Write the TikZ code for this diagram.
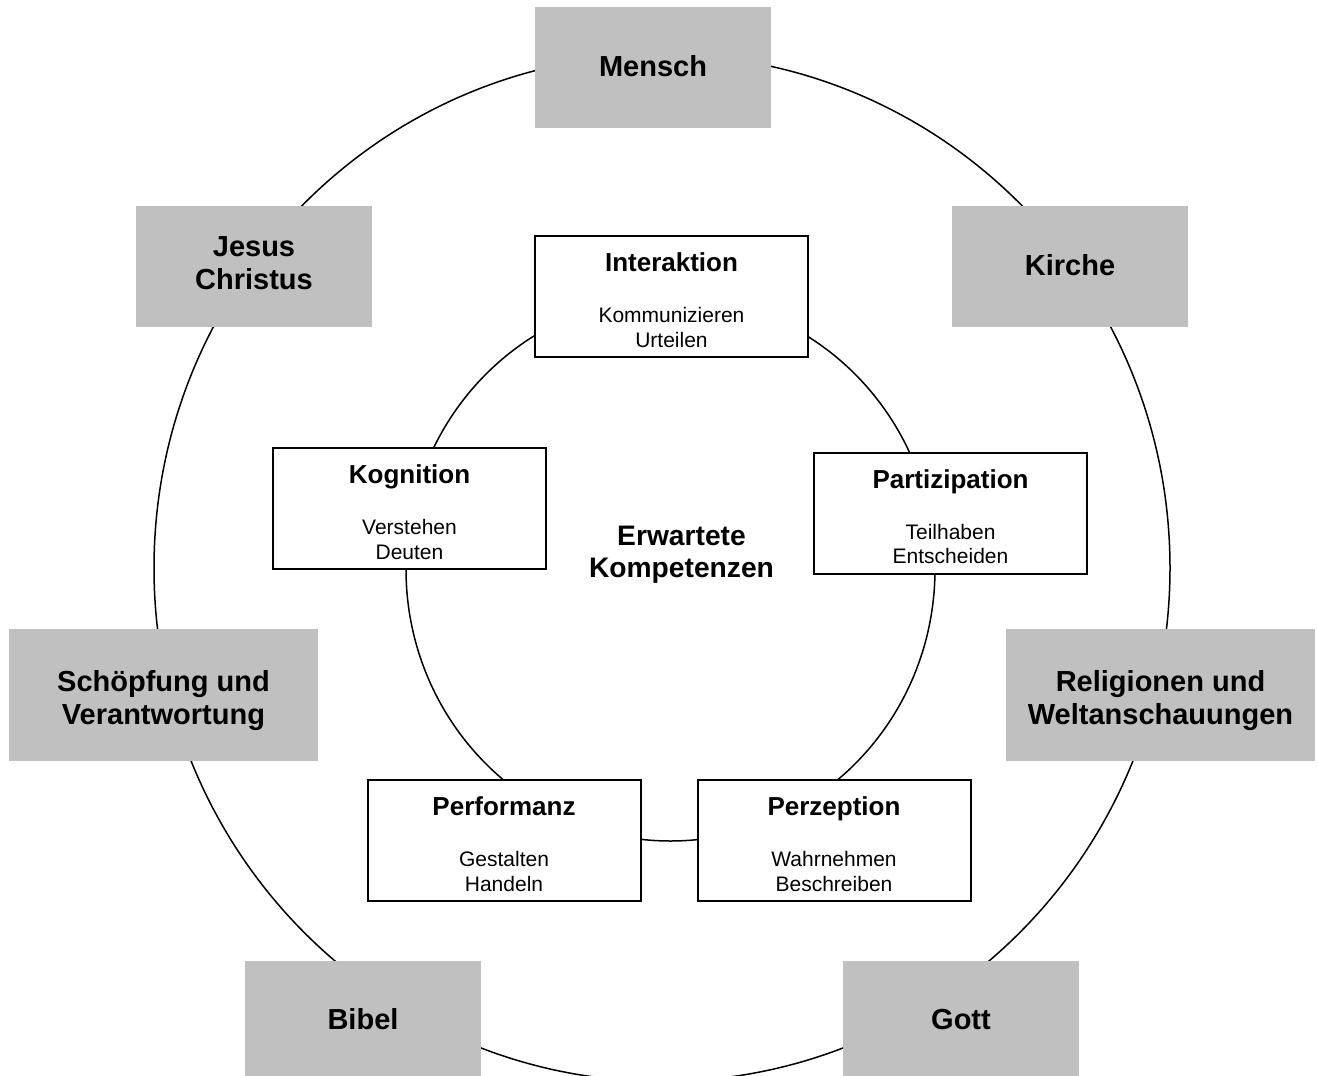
\documentclass[tikz,border=0pt]{standalone}
\usepackage{fontspec}
\setmainfont{Liberation Sans}
\definecolor{boxgray}{RGB}{192,192,192}
\tikzset{
  ring/.style={draw=black, line width=1.5pt},
  topicbox/.style={fill=boxgray, draw=none, minimum width=236pt, minimum height=121pt, inner sep=0pt},
  topicwide/.style={topicbox, minimum width=309pt, minimum height=132pt},
  compbox/.style={fill=white, draw=black, line width=2pt, minimum width=273pt, minimum height=121pt, inner sep=0pt},
  topictext/.style={anchor=base, inner sep=0pt, font=\fontsize{29}{33}\selectfont\bfseries},
  comptitle/.style={anchor=base, inner sep=0pt, font=\fontsize{26}{30}\selectfont\bfseries},
  compsub/.style={anchor=base, inner sep=0pt, font=\fontsize{21}{24}\selectfont},
  centretext/.style={anchor=base, inner sep=0pt, font=\fontsize{28.2}{32}\selectfont\bfseries}
}
\begin{document}
\begin{tikzpicture}[x=1pt,y=-1pt]
\useasboundingbox (0,0) rectangle (1318,1076);
\clip (0,0) rectangle (1318,1076);
% circles
\draw[ring] (662,568) ellipse [x radius=508pt, y radius=513.5pt];
\draw[ring] (670.5,569) ellipse [x radius=264.5pt, y radius=272pt];
% outer topics
\node[topicbox] (mensch) at (653,67.5) {};
\node[topictext] (mensch-t) at (653,76) {Mensch};
\node[topicbox] (jesus) at (254,266.5) {};
\node[topictext] (jesus-t1) at (254,256) {Jesus};
\node[topictext] (jesus-t2) at (254,289.3) {Christus};
\node[topicbox] (kirche) at (1070,266.5) {};
\node[topictext] (kirche-t) at (1070,275) {Kirche};
\node[topicwide] (schoepfung) at (163.5,695) {};
\node[topictext] (schoepfung-t1) at (163.5,691.7) {Schöpfung und};
\node[topictext] (schoepfung-t2) at (163.5,724.5) {Verantwortung};
\node[topicwide] (religionen) at (1160.5,695) {};
\node[topictext] (religionen-t1) at (1160.5,691.7) {Religionen und};
\node[topictext] (religionen-t2) at (1160.5,724.5) {Weltanschauungen};
\node[topicbox] (bibel) at (363,1021.5) {};
\node[topictext] (bibel-t) at (363,1029.5) {Bibel};
\node[topicbox] (gott) at (961,1021.5) {};
\node[topictext] (gott-t) at (961,1029.5) {Gott};
% competences
\node[compbox] (interaktion) at (671.5,296.5) {};
\node[comptitle] (interaktion-t) at (671.5,271.5) {Interaktion};
\node[compsub] (interaktion-s1) at (671.5,322.5) {Kommunizieren};
\node[compsub] (interaktion-s2) at (671.5,347) {Urteilen};
\node[compbox] (kognition) at (409.5,508.5) {};
\node[comptitle] (kognition-t) at (409.5,483.5) {Kognition};
\node[compsub] (kognition-s1) at (409.5,534.5) {Verstehen};
\node[compsub] (kognition-s2) at (409.5,559) {Deuten};
\node[compbox] (partizipation) at (950.5,513.25) {};
\node[comptitle] (partizipation-t) at (950.5,488) {Partizipation};
\node[compsub] (partizipation-s1) at (950.5,539) {Teilhaben};
\node[compsub] (partizipation-s2) at (950.5,563.5) {Entscheiden};
\node[compbox] (performanz) at (504,840.5) {};
\node[comptitle] (performanz-t) at (504,815.5) {Performanz};
\node[compsub] (performanz-s1) at (504,866.5) {Gestalten};
\node[compsub] (performanz-s2) at (504,891) {Handeln};
\node[compbox] (perzeption) at (834,840.5) {};
\node[comptitle] (perzeption-t) at (834,815.5) {Perzeption};
\node[compsub] (perzeption-s1) at (834,866.5) {Wahrnehmen};
\node[compsub] (perzeption-s2) at (834,891) {Beschreiben};
% centre
\node[centretext] (centre-t1) at (681.5,545) {Erwartete};
\node[centretext] (centre-t2) at (681.5,577) {Kompetenzen};
\end{tikzpicture}
\end{document}
